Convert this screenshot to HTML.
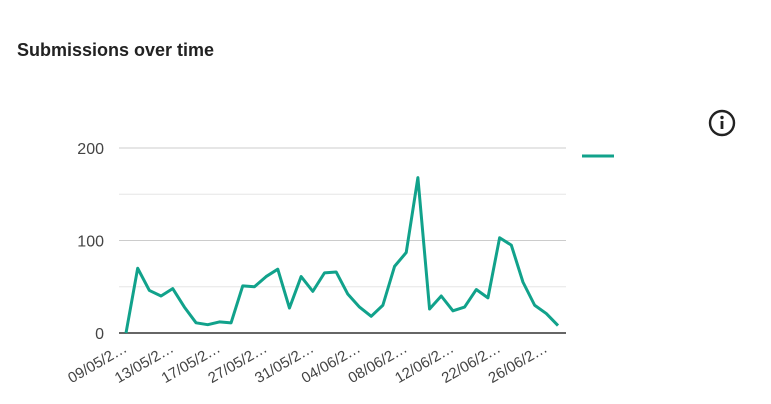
<!DOCTYPE html>
<html><head><meta charset="utf-8"><style>
body{margin:0;width:771px;height:404px;background:#fff;font-family:"Liberation Sans",Arial,sans-serif;overflow:hidden;position:relative}
</style></head><body>
<div style="position:absolute;left:17px;top:40px;font-size:18px;font-weight:bold;color:#222">Submissions over time</div>
<svg style="position:absolute;left:708px;top:109px" width="28" height="28"><circle cx="14" cy="14" r="12" fill="none" stroke="#222" stroke-width="2.4"/><rect x="12.6" y="12" width="2.8" height="8" fill="#222"/><circle cx="14" cy="8.5" r="1.7" fill="#222"/></svg>
<svg id="c" width="771" height="404" style="position:absolute;left:0;top:0"></svg>
<script>
const labels=["09/05/2…","13/05/2…","17/05/2…","27/05/2…","31/05/2…","04/06/2…","08/06/2…","12/06/2…","22/06/2…","26/06/2…"];
const values=[0,70,46,40,48,28,11,9,12,11,51,50,61,69,27,61,45,65,66,42,28,18,30,72,87,168,26,40,24,28,47,38,103,95,55,30,21,8];
const yTicks=[0,100,200];
const minorTicks=[50,150];
const svg=document.getElementById('c');const NS='http://www.w3.org/2000/svg';
const x=i=>126+i*(558-126)/(values.length-1);
const y=v=>333-v*0.925;
function mk(t,a,p){const e=document.createElementNS(NS,t);for(const k in a)e.setAttribute(k,a[k]);(p||svg).appendChild(e);return e;}
minorTicks.forEach(v=>{const l=mk('line',{x1:119,x2:566,y1:y(v),y2:y(v),stroke:'#e6e6e6','stroke-width':1});

});
yTicks.forEach(v=>{const l=mk('line',{x1:119,x2:566,y1:y(v),y2:y(v),stroke:v===0?'#333':'#ccc','stroke-width':v===0?1.5:1});


const t=mk('text',{x:104,y:y(v)+6,'text-anchor':'end','font-size':16,fill:'#444','font-family':'Liberation Sans, sans-serif'});t.textContent=v;

});
labels.forEach((s,k)=>{const px=x(k*4);const t=mk('text',{x:0,y:0,'text-anchor':'end','font-size':15,fill:'#444','font-family':'Liberation Sans, sans-serif',transform:`translate(${px+2},${351}) rotate(-30)`});t.textContent=s;

});
const p=mk('polyline',{points:values.map((v,i)=>x(i)+','+y(v)).join(' '),fill:'none',stroke:'#11a28b','stroke-width':3,'stroke-linejoin':'round'});


const lg=mk('line',{x1:582,x2:614,y1:156,y2:156,stroke:'#11a28b','stroke-width':3});


</script>
</body></html>
